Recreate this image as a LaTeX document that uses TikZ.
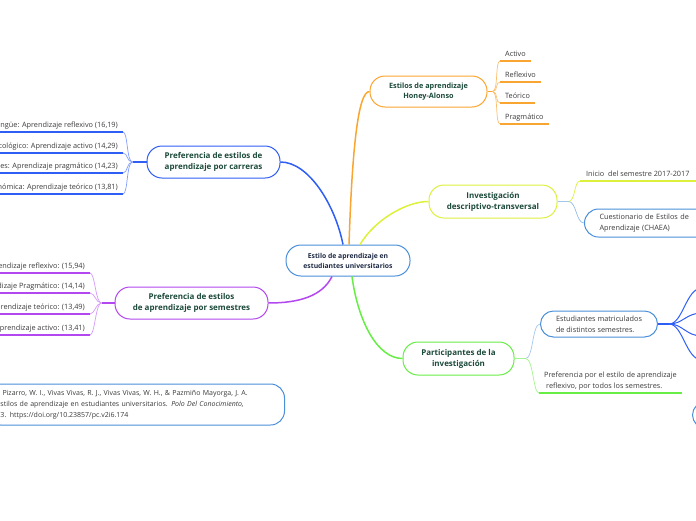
\documentclass[tikz,border=0pt]{standalone}
\usepackage{fontspec}
\setmainfont{Open Sans}
\usepackage{tikz}
\usetikzlibrary{calc,positioning}

\definecolor{mmorange}{HTML}{F9A531}
\definecolor{mmyellow}{HTML}{DDF03C}
\definecolor{mmgreen}{HTML}{66EE44}
\definecolor{mmblue}{HTML}{2F5EF5}
\definecolor{mmpurple}{HTML}{B347F0}
\definecolor{mmlblue}{HTML}{4A90D9}
\definecolor{topictext}{HTML}{1C4A3A}
\definecolor{roottext}{HTML}{1E2A44}
\definecolor{leaftext}{HTML}{3A3A3A}

\tikzset{
  topic/.style={draw=#1, line width=1pt, rounded corners=15pt, fill=white, align=center,
    font=\fontsize{8}{11}\selectfont\bfseries, text=topictext, minimum height=31pt},
  leaf/.style={font=\fontsize{7.3}{9}\selectfont, text=leaftext, inner xsep=5pt, inner ysep=2.5pt,
    text height=5.5pt, text depth=1.8pt},
  leafmulti/.style={font=\fontsize{7.3}{11}\selectfont, text=leaftext, inner xsep=5pt, inner ysep=2.5pt, align=left},
  leafbox/.style={draw=mmlblue, line width=1pt, rounded corners=13pt, fill=white, align=left,
    font=\fontsize{7.3}{11}\selectfont, text=leaftext},
  uline/.style={draw=#1, line width=1.6pt},
  branch/.style={draw=#1, line width=1.5pt},
  twig/.style={draw=#1, line width=0.7pt},
}

\begin{document}
\begin{tikzpicture}[x=1pt,y=-1pt]
\useasboundingbox (0,0) rectangle (696,520);
\clip (0,0) rectangle (696,520);

% main topics
\node[topic=mmlblue, text=roottext, font=\fontsize{6.8}{10}\selectfont\bfseries, minimum width=124pt] (root) at (348,260.5) {Estilo de aprendizaje en\\estudiantes universitarios};
\node[topic=mmorange, font=\fontsize{7.3}{10.5}\selectfont\bfseries, minimum width=117pt] (honey) at (428.5,91.5) {Estilos de aprendizaje\\Honey-Alonso};
\node[topic=mmyellow, minimum width=128pt, minimum height=33pt] (inv) at (493,201.5) {Investigación\\descriptivo-transversal};
\node[topic=mmgreen, minimum width=111pt, minimum height=33pt] (part) at (458.5,358.5) {Participantes de la\\investigación};
\node[topic=mmblue, minimum width=133pt, minimum height=32pt] (carr) at (213.5,162) {Preferencia de estilos de\\aprendizaje por carreras};
\node[topic=mmpurple, minimum width=153pt, minimum height=32pt] (sem) at (191.5,303) {Preferencia de estilos\\de aprendizaje por semestres};

% branches from the root
\draw[branch=mmorange] ($(root.north)+(1,0)$) .. controls +(3,-90) and +(-12,0) .. (honey.west);
\draw[branch=mmblue] ($(root.north)+(-5,0)$) .. controls +(-8,-40) and +(28,0) .. (carr.east);
\draw[branch=mmyellow] ($(root.north)+(12,0)$) .. controls +(15,-25) and +(-22,0) .. (inv.west);
\draw[branch=mmgreen] ($(root.south)+(4,0)$) .. controls +(6,45) and +(-25,0) .. (part.west);
\draw[branch=mmpurple] ($(root.south)+(-16,0)$) .. controls +(-10,20) and +(30,0) .. (sem.east);

% Honey-Alonso
\node[leaf, anchor=south west] (activo) at (500,61) {Activo};
\node[leaf, anchor=south west] (reflexivo) at (500,82) {Reflexivo};
\node[leaf, anchor=south west] (teorico) at (500,103) {Teórico};
\node[leaf, anchor=south west] (pragmatico) at (500,124) {Pragmático};
\coordinate (honeyfork) at ($(honey.east)+(5,0)$);
\draw[branch=mmorange] (honey.east) -- (honeyfork);
\foreach \n in {activo,reflexivo,teorico,pragmatico}{
  \draw[uline=mmorange] (\n.south west) -- (\n.south east);
  \draw[twig=mmorange!70] (honeyfork) .. controls +(6,0) and +(-5,0) .. (\n.south west);
}

% carreras
\coordinate (leftend) at (-5,0);
\node[leaf, anchor=south east] (c1) at (123,132) {ngüe: Aprendizaje reflexivo (16,19)};
\node[leaf, anchor=south east] (c2) at (123,153) {cológico: Aprendizaje activo (14,29)};
\node[leaf, anchor=south east] (c3) at (123,173) {es: Aprendizaje pragmático (14,23)};
\node[leaf, anchor=south east] (c4) at (123,194) {nómica: Aprendizaje teórico (13,81)};
\coordinate (carrfork) at ($(carr.west)+(-14,0)$);
\draw[branch=mmblue] (carr.west) -- (carrfork);
\foreach \n in {c1,c2,c3,c4}{
  \draw[uline=mmblue] (\n.south east) -- (\n.south east -| leftend);
  \draw[twig=mmblue!60] (carrfork) .. controls +(-6,0) and +(5,0) .. (\n.south east);
}

% semestres
\node[leaf, anchor=south east] (s1) at (90,273) {rendizaje reflexivo: (15,94)};
\node[leaf, anchor=south east] (s2) at (90,293) {dizaje Pragmático: (14,14)};
\node[leaf, anchor=south east] (s3) at (90,314) {prendizaje teórico: (13,49)};
\node[leaf, anchor=south east] (s4) at (90,335) {Aprendizaje activo: (13,41)};
\coordinate (semfork) at ($(sem.west)+(-13,0)$);
\draw[branch=mmpurple] (sem.west) -- (semfork);
\foreach \n in {s1,s2,s3,s4}{
  \draw[uline=mmpurple] (\n.south east) -- (\n.south east -| leftend);
  \draw[twig=mmpurple!55] (semfork) .. controls +(-6,0) and +(5,0) .. (\n.south east);
}

% investigacion
\coordinate (rightend) at (710,0);
\node[leaf, anchor=south west, inner xsep=6pt] (inicio) at (580,181) {Inicio\ \ del semestre 2017-2017};
\node[leafbox, anchor=west, text width=110pt, inner xsep=15pt, minimum height=28pt, rounded corners=14pt] (cuest) at (584,223) {Cuestionario de Estilos de\\Aprendizaje (CHAEA)};
\coordinate (invfork) at ($(inv.east)+(11,0)$);
\draw[branch=mmlblue!50, line width=1.2pt] (inv.east) -- (invfork);
\draw[uline=mmyellow] (inicio.south west) -- (inicio.south west -| rightend);
\draw[twig=mmyellow] (invfork) .. controls +(7,0) and +(-6,0) .. (inicio.south west);
\draw[twig=mmlblue!60] (invfork) .. controls +(8,0) and +(-8,0) .. (cuest.west);

% participantes
\node[leafbox, anchor=west, minimum width=117pt, minimum height=26pt] (estud) at (540,324) {Estudiantes matriculados\\de distintos semestres.};
\node[leafmulti, anchor=south west] (prefleaf) at (539,393) {Preferencia por el estilo de aprendizaje\\\hspace*{2pt}reflexivo, por todos los semestres.};
\coordinate (partfork) at ($(part.east)+(11,0)$);
\draw[branch=mmgreen!60, line width=1.2pt] (part.east) -- (partfork);
\draw[twig=mmlblue!50] (partfork) .. controls +(8,0) and +(-8,0) .. (estud.west);
\draw[twig=mmgreen!60] (partfork) .. controls +(8,0) and +(-6,0) .. (prefleaf.south west);
\draw[uline=mmgreen] (prefleaf.south west) -- (prefleaf.south east);

% estudiantes, cut at the right edge
\coordinate (estfork) at ($(estud.east)+(11,0)$);
\coordinate (e1) at (702,288);
\coordinate (e2) at (702,313);
\coordinate (e3) at (702,336);
\coordinate (e4) at (702,360);
\draw[branch=mmblue, line width=1.2pt] (estud.east) -- (estfork);
\foreach \n in {e1,e2,e3,e4}
  \draw[mmblue, line width=1pt] (estfork) .. controls +(14,0) and +(-16,0) .. (\n);
\node[draw=mmlblue, line width=1pt, rounded corners=13pt, minimum width=80pt, minimum height=26pt, anchor=west] (extra) at (692,415) {};

% referencia
\node[draw=mmlblue, line width=1pt, rounded corners=14pt, fill=white, anchor=east, align=left, text width=270pt,
  inner xsep=14pt, minimum height=41pt, font=\fontsize{7}{10.8}\selectfont, text=leaftext] (ref) at (285,404.5)
  {\hspace*{2pt}Pizarro, W. I., Vivas Vivas, R. J., Vivas Vivas, W. H., \& Pazmiño Mayorga, J. A.\\
   stilos de aprendizaje en estudiantes universitarios. \textit{Polo Del Conocimiento,}\\
   3. https://doi.org/10.23857/pc.v2i6.174};
\end{tikzpicture}
\end{document}
